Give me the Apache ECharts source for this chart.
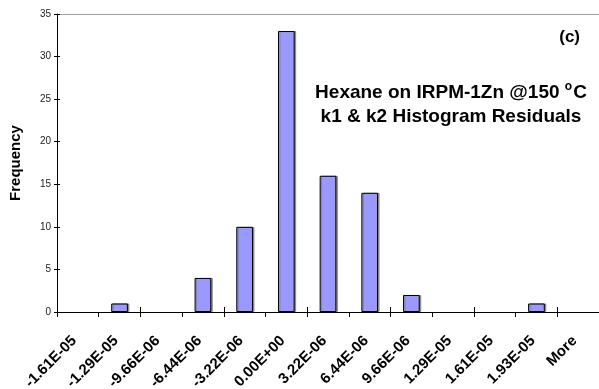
<!DOCTYPE html>
<html>
<head>
<meta charset="utf-8">
<script src="https://cdn.jsdelivr.net/npm/echarts@6/dist/echarts.min.js"></script>
<style>html,body{margin:0;padding:0;background:#fff;}#c{width:599px;height:389px;}</style>
</head>
<body>
<div id="c"></div>
<script>
var categories = ['-1.61E-05','-1.29E-05','-9.66E-06','-6.44E-06','-3.22E-06','0.00E+00','3.22E-06','6.44E-06','9.66E-06','1.29E-05','1.61E-05','1.93E-05','More'];
var frequency = [0, 1, 0, 4, 10, 33, 16, 14, 2, 0, 0, 1, 0];
var yTicks = {min: 0, max: 35, interval: 5};

var FONT = '"Liberation Sans", Arial, sans-serif';
var chart = echarts.init(document.getElementById('c'), null, {renderer: 'canvas'});
chart.setOption({
  backgroundColor: '#fff',
  animation: false,
  textStyle: {fontFamily: FONT},
  title: [{
    text: '{a|Hexane on IRPM-1Zn @150 }{s|o}{a|C}\n{a|k1 & k2 Histogram Residuals}',
    left: 446, top: 76, textAlign: 'center',
    textStyle: {
      rich: {
        a: {fontFamily: FONT, fontWeight: 'bold', fontSize: 19, color: '#000', lineHeight: 24},
        s: {fontFamily: FONT, fontWeight: 'bold', fontSize: 12, color: '#000', lineHeight: 24, verticalAlign: 'top', padding: [0, 1, 0, 0]}
      }
    }
  }, {
    text: '(c)', right: 14, top: 24,
    textStyle: {fontFamily: FONT, fontWeight: 'bold', fontSize: 17, color: '#000'}
  }],
  grid: {left: 57, right: 0, top: 14, bottom: 77, containLabel: false, outerBoundsMode: 'none'},
  xAxis: [{
    type: 'category', data: categories, position: 'bottom',
    axisLine: {lineStyle: {color: '#000', width: 1}},
    axisTick: {show: true, length: 5, lineStyle: {color: '#000'}},
    axisLabel: {rotate: 45, fontFamily: FONT, fontWeight: 'bold', fontSize: 15, color: '#000', margin: 23, interval: 0, padding: [0, 5, 0, 0]}
  }, {
    type: 'category', data: categories, position: 'bottom',
    axisLine: {show: false},
    axisTick: {show: true, inside: true, length: 5, lineStyle: {color: '#000'}},
    axisLabel: {show: false}
  }, {
    type: 'category', data: categories, position: 'top',
    axisLine: {show: true, lineStyle: {color: '#a0a0a0', width: 1}},
    axisTick: {show: false}, axisLabel: {show: false}
  }],
  yAxis: [{
    type: 'value', min: yTicks.min, max: yTicks.max, interval: yTicks.interval,
    name: 'Frequency', nameLocation: 'middle', nameGap: 34, nameRotate: 90,
    nameTextStyle: {fontFamily: FONT, fontWeight: 'bold', fontSize: 15, color: '#000'},
    axisLine: {show: true, lineStyle: {color: '#000', width: 1}},
    axisTick: {show: true, length: 3, lineStyle: {color: '#000'}},
    axisLabel: {fontFamily: FONT, fontSize: 10, color: '#222', margin: 6},
    splitLine: {show: false}
  }, {
    type: 'value', min: yTicks.min, max: yTicks.max, interval: yTicks.interval, position: 'left',
    axisLine: {show: false},
    axisTick: {show: true, inside: true, length: 3, lineStyle: {color: '#000'}},
    axisLabel: {show: false}, splitLine: {show: false}
  }],
  series: [{
    type: 'bar', data: frequency.map(function (v) { return v === 0 ? '-' : v; }),
    xAxisIndex: 0, yAxisIndex: 0,
    barWidth: '40%',
    itemStyle: {color: '#9999ff', borderColor: '#000', borderWidth: 1,
      shadowColor: '#888', shadowOffsetX: 1.5, shadowOffsetY: 0, shadowBlur: 0}
  }]
});
</script>
</body>
</html>
